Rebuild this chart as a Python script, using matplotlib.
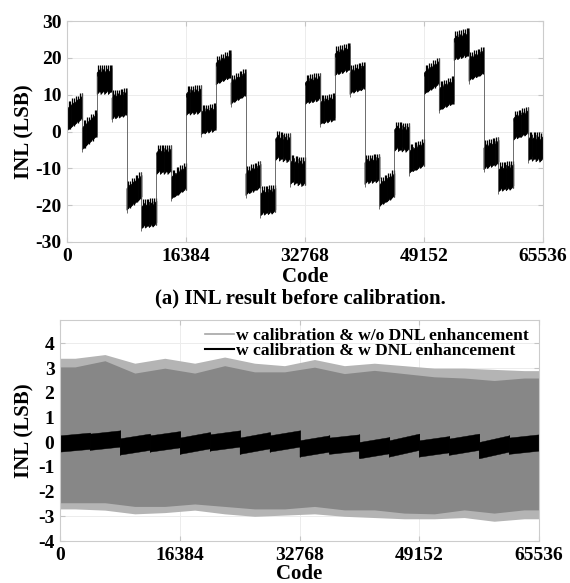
import matplotlib
matplotlib.use("Agg")
import matplotlib.pyplot as plt
import numpy as np
from matplotlib.lines import Line2D

plt.rcParams["axes.unicode_minus"] = False

FULL_SCALE = 65536
x_ticks = [0, 16384, 32768, 49152, 65536]

# (a) before calibration: one band per 2048-code segment, min / max
top_seg = 2048
top_lo = [-0.4, -5.6, 9.4, 2.6, -22, -27, -12.3, -19, 3.7, -1.5, 12, 6.7, -18, -23.5, -8.5, -15,
          6.7, 1.2, 14.5, 9.4, -15, -21, -6, -12, 9.4, 5, 18.6, 13, -11, -17, -3, -8.6]
top_hi = [10.5, 5.8, 18, 11.8, -11, -18, -3.7, -8.5, 12.6, 7.7, 22, 17, -8, -14.5, -0.5, -7,
          16, 10.5, 24, 19, -6, -10.5, 2.3, -2, 20, 15, 28, 23, -1.5, -8, 6.7, -0.4]
# every segment is made of 4 small rising sub-steps with spikes at their end
sub_steps = 4
sub_core = 5.8      # thickness of one sub-step band (LSB)
sub_rise = 1.2      # rise inside one sub-step (LSB)
sub_spike = 0.8     # spikes above / below the band (LSB)

# (b) after calibration, one value per 4096-code segment
bot_seg = 4096
gray_hi = [3.05, 3.3, 2.8, 3.0, 2.8, 3.1, 2.85, 2.85, 3.04, 2.78, 2.91, 2.78, 2.65, 2.6, 2.5, 2.6]
gray_lo = [-2.45, -2.45, -2.6, -2.6, -2.5, -2.6, -2.7, -2.7, -2.6, -2.74, -2.74, -2.87, -2.9, -2.74, -2.87, -2.74]
gray_peak_hi = [3.4, 3.55, 3.2, 3.4, 3.2, 3.45, 3.2, 3.1, 3.35, 3.1, 3.2, 3.1, 3.0, 3.0, 2.95, 2.9]
gray_peak_lo = [-2.7, -2.75, -2.9, -2.85, -2.75, -2.9, -3.0, -2.95, -2.9, -3.0, -3.05, -3.1, -3.1, -3.05, -3.2, -3.1]
black_start = [-0.05, 0.02, -0.17, -0.05, -0.14, -0.01, -0.14, -0.05,
               -0.25, -0.14, -0.32, -0.25, -0.25, -0.18, -0.32, -0.14]
black_end = [0.06, 0.15, 0.02, 0.12, 0.08, 0.15, 0.08, 0.15,
             -0.05, -0.01, -0.12, 0.02, -0.08, 0.02, -0.05, -0.01]
black_half = 0.33

legend_labels = ["w calibration & w/o DNL enhancement", "w calibration & w DNL enhancement"]

SERIF = "Liberation Serif"
GRAY = "#878787"
LIGHT_GRAY = "#b4b4b4"


def style_axes(ax):
    for sp in ax.spines.values():
        sp.set_color("#cccccc")
        sp.set_linewidth(0.8)
    ax.grid(True, color="#ececec", linewidth=0.7)
    ax.set_axisbelow(True)
    ax.tick_params(direction="in", length=3.5, color="#c4c4c4", top=True, right=True,
                   labelsize=14, pad=4)
    for lab in ax.get_xticklabels() + ax.get_yticklabels():
        lab.set_fontfamily(SERIF)
        lab.set_fontweight("bold")


def draw_segment(ax, s, e, lo, hi):
    # staircase of sub-steps going from lo (start) to hi (end)
    total = hi - lo - sub_core - sub_rise - 2 * sub_spike
    w = (e - s) / sub_steps
    for j in range(sub_steps):
        x0, x1 = s + j * w, s + (j + 1) * w
        b0 = lo + sub_spike + total * j / (sub_steps - 1)
        ax.fill_between([x0, x1], [b0, b0 + sub_rise], [b0 + sub_core, b0 + sub_rise + sub_core],
                        color="black", linewidth=0.6)
        ax.vlines([x0 + w * 0.45, x1 - w * 0.1], b0 + sub_rise - sub_spike,
                  b0 + sub_rise + sub_core + sub_spike, color="black", linewidth=0.9)


fig = plt.figure(figsize=(5.7, 5.83), dpi=100)

# ---- top: INL before calibration ----
ax1 = fig.add_axes([67 / 570, 1 - 242 / 583, 476 / 570, 221 / 583])
for i in range(len(top_lo)):
    s, e = i * top_seg, (i + 1) * top_seg
    draw_segment(ax1, s, e, top_lo[i], top_hi[i])
    if i + 1 < len(top_lo):
        ys = [top_hi[i], top_hi[i] - 2 * sub_spike - sub_core, top_lo[i + 1], top_lo[i + 1] + sub_core]
        ax1.vlines(e, min(ys), max(ys), color="#555555", linewidth=0.6)
ax1.set_xlim(0, FULL_SCALE)
ax1.set_ylim(-30, 30)
ax1.set_xticks(x_ticks)
ax1.set_yticks(range(-30, 31, 10))
ax1.set_xlabel("Code", fontsize=15, fontweight="bold", family=SERIF, labelpad=1.5)
ax1.set_ylabel("INL (LSB)", fontsize=15, fontweight="bold", family=SERIF)
ax1.yaxis.set_label_coords((34 - 67) / 476, 0.5)
style_axes(ax1)

fig.text(300 / 570, 1 - 298 / 583, "(a) INL result before calibration.", ha="center", va="center",
         fontsize=15, fontweight="bold", family=SERIF)

# ---- bottom: INL after calibration ----
ax2 = fig.add_axes([60 / 570, 1 - 541 / 583, 479 / 570, 221 / 583])
mids = np.arange(len(gray_hi)) * bot_seg + bot_seg / 2
gx = np.r_[0, mids, FULL_SCALE]
ax2.fill_between(gx, np.r_[gray_peak_lo[0], gray_peak_lo, gray_peak_lo[-1]],
                 np.r_[gray_peak_hi[0], gray_peak_hi, gray_peak_hi[-1]], color=LIGHT_GRAY, linewidth=0)
ax2.fill_between(gx, np.r_[gray_lo[0], gray_lo, gray_lo[-1]],
                 np.r_[gray_hi[0], gray_hi, gray_hi[-1]], color=GRAY, linewidth=0)
for i in range(len(black_start)):
    s, e = i * bot_seg, (i + 1) * bot_seg
    ax2.fill_between([s, e], [black_start[i] - black_half, black_end[i] - black_half],
                     [black_start[i] + black_half, black_end[i] + black_half], color="black", linewidth=0.3)
    if i + 1 < len(black_start):
        ax2.vlines(e, min(black_end[i], black_start[i + 1]) - black_half,
                   max(black_end[i], black_start[i + 1]) + black_half, color="black", linewidth=0.6)
ax2.set_xlim(0, FULL_SCALE)
ax2.set_ylim(-4, 4.95)
ax2.set_xticks(x_ticks)
ax2.set_yticks(range(-4, 5))
ax2.set_xlabel("Code", fontsize=15, fontweight="bold", family=SERIF, labelpad=0)
ax2.set_ylabel("INL (LSB)", fontsize=15, fontweight="bold", family=SERIF)
ax2.yaxis.set_label_coords((34 - 60) / 479, 0.5)
style_axes(ax2)

handles = [Line2D([], [], color="#a5a5a5", linewidth=1.2), Line2D([], [], color="black", linewidth=1.5)]
ax2.legend(handles, legend_labels, loc="upper right", bbox_to_anchor=(1.0, 1.0 + 3 / 221),
           frameon=False, handlelength=1.65, handletextpad=0.1, labelspacing=-0.05,
           borderaxespad=0.2, prop={"family": SERIF, "weight": "bold", "size": 12.6})

fig.savefig("out.png", dpi=100)
